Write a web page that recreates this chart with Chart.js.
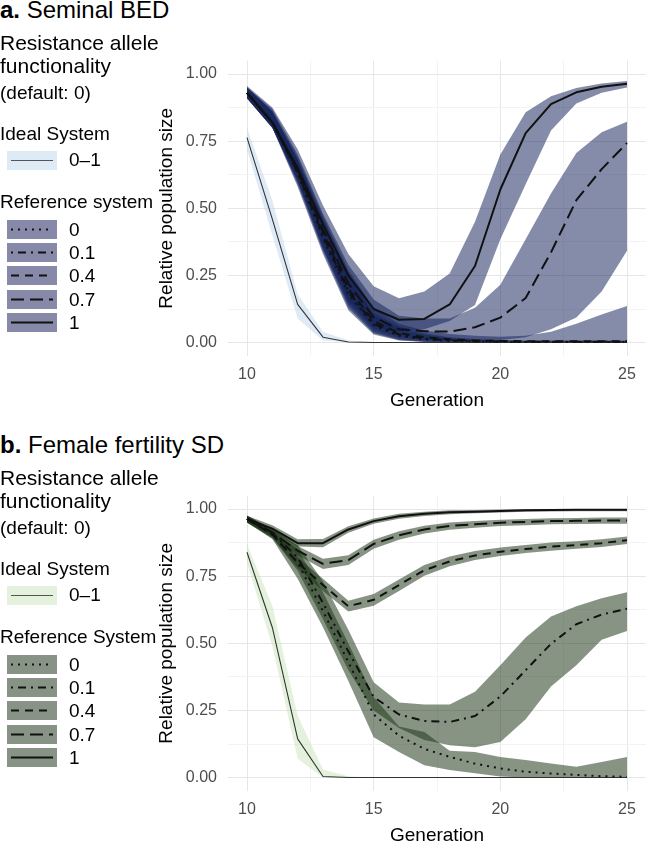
<!DOCTYPE html>
<html>
<head>
<meta charset="utf-8">
<script src="https://cdn.jsdelivr.net/npm/chart.js@4.4.1/dist/chart.umd.min.js"></script>
<style>
    html, body { margin: 0; padding: 0; background: #fff; }
    body { width: 646px; height: 841px; position: relative; overflow: hidden; font-family: "Liberation Sans", Arial, sans-serif; color: #000; }
    .panel { position: absolute; left: 0; width: 646px; height: 435px; }
    .txt { position: absolute; left: 0; white-space: nowrap; }
    .cv { position: absolute; left: 150px; top: 40px; }
    svg.key { position: absolute; left: 7px; }
</style>
</head>
<body>
<div class="panel" id="panelA" style="top:0px"><div class="cv"><canvas id="chartA" width="496" height="380"></canvas></div></div>
<div class="panel" id="panelB" style="top:435px"><div class="cv"><canvas id="chartB" width="496" height="380"></canvas></div></div>
<script>
const generations = [10, 11, 12, 13, 14, 15, 16, 17, 18, 19, 20, 21, 22, 23, 24, 25];
const xTicks = [10, 12.5, 15, 17.5, 20, 22.5, 25];
const yTicks = [0, 0.125, 0.25, 0.375, 0.5, 0.625, 0.75, 0.875, 1];
const refLabels = ["0", "0.1", "0.4", "0.7", "1"];

// panel a: Seminal BED
const aIdeal   = [0.763, 0.46, 0.142, 0.02, 0.002, 0, 0, 0, 0, 0, 0, 0, 0, 0, 0, 0];
const aIdealLo = [0.72, 0.40, 0.09, 0.008, 0, 0, 0, 0, 0, 0, 0, 0, 0, 0, 0, 0];
const aIdealHi = [0.80, 0.53, 0.18, 0.04, 0.008, 0.001, 0, 0, 0, 0, 0, 0, 0, 0, 0, 0];

const aRef0    = [0.93, 0.82, 0.63, 0.39, 0.18, 0.065, 0.025, 0.012, 0.006, 0.004, 0.003, 0.002, 0.002, 0.002, 0.002, 0.002];
const aRef0Lo  = [0.91, 0.80, 0.58, 0.33, 0.12, 0.03, 0.008, 0.002, 0, 0, 0, 0, 0, 0, 0, 0];
const aRef0Hi  = [0.95, 0.86, 0.68, 0.45, 0.25, 0.10, 0.05, 0.03, 0.015, 0.01, 0.008, 0.006, 0.006, 0.006, 0.006, 0.006];
const aRef01   = [0.93, 0.82, 0.635, 0.40, 0.19, 0.07, 0.03, 0.015, 0.008, 0.005, 0.004, 0.003, 0.003, 0.003, 0.003, 0.003];
const aRef01Lo = [0.91, 0.80, 0.59, 0.34, 0.13, 0.035, 0.01, 0.003, 0, 0, 0, 0, 0, 0, 0, 0];
const aRef01Hi = [0.95, 0.86, 0.68, 0.46, 0.26, 0.11, 0.06, 0.035, 0.02, 0.013, 0.01, 0.008, 0.008, 0.008, 0.008, 0.008];
const aRef04   = [0.93, 0.82, 0.64, 0.41, 0.20, 0.08, 0.035, 0.02, 0.012, 0.008, 0.006, 0.005, 0.005, 0.005, 0.005, 0.005];
const aRef04Lo = [0.91, 0.80, 0.60, 0.35, 0.14, 0.04, 0.012, 0.004, 0, 0, 0, 0, 0, 0, 0, 0];
const aRef04Hi = [0.95, 0.86, 0.69, 0.47, 0.27, 0.13, 0.07, 0.045, 0.032, 0.025, 0.022, 0.025, 0.04, 0.07, 0.105, 0.136];
const aRef07   = [0.93, 0.82, 0.645, 0.42, 0.22, 0.095, 0.05, 0.042, 0.041, 0.057, 0.093, 0.166, 0.336, 0.53, 0.646, 0.743];
const aRef07Lo = [0.91, 0.80, 0.60, 0.35, 0.15, 0.05, 0.02, 0.01, 0.006, 0.006, 0.01, 0.02, 0.05, 0.093, 0.19, 0.342];
const aRef07Hi = [0.95, 0.87, 0.70, 0.48, 0.29, 0.16, 0.10, 0.09, 0.09, 0.13, 0.215, 0.385, 0.555, 0.706, 0.783, 0.822];
const aRef1    = [0.93, 0.82, 0.65, 0.44, 0.25, 0.125, 0.085, 0.088, 0.142, 0.285, 0.57, 0.78, 0.888, 0.932, 0.953, 0.964];
const aRef1Lo  = [0.91, 0.80, 0.61, 0.37, 0.16, 0.06, 0.04, 0.05, 0.08, 0.14, 0.385, 0.59, 0.79, 0.89, 0.93, 0.95];
const aRef1Hi  = [0.955, 0.875, 0.72, 0.51, 0.33, 0.21, 0.165, 0.19, 0.257, 0.45, 0.70, 0.858, 0.917, 0.948, 0.965, 0.974];

// panel b: Female fertility SD
const bIdeal   = [0.839, 0.559, 0.144, 0.004, 0, 0, 0, 0, 0, 0, 0, 0, 0, 0, 0, 0];
const bIdealLo = [0.80, 0.49, 0.07, 0, 0, 0, 0, 0, 0, 0, 0, 0, 0, 0, 0, 0];
const bIdealHi = [0.87, 0.64, 0.23, 0.03, 0.005, 0, 0, 0, 0, 0, 0, 0, 0, 0, 0, 0];

const bRef0    = [0.963, 0.905, 0.80, 0.62, 0.43, 0.235, 0.156, 0.107, 0.077, 0.052, 0.034, 0.022, 0.015, 0.01, 0.005, 0.003];
const bRef0Lo  = [0.95, 0.888, 0.74, 0.56, 0.36, 0.15, 0.095, 0.046, 0.028, 0.016, 0.004, 0, 0, 0, 0, 0];
const bRef0Hi  = [0.975, 0.92, 0.85, 0.69, 0.50, 0.30, 0.19, 0.17, 0.10, 0.095, 0.077, 0.065, 0.052, 0.04, 0.058, 0.077];
const bRef01   = [0.963, 0.91, 0.82, 0.65, 0.47, 0.30, 0.235, 0.211, 0.207, 0.229, 0.302, 0.40, 0.498, 0.571, 0.607, 0.629];
const bRef01Lo = [0.95, 0.895, 0.77, 0.59, 0.40, 0.25, 0.185, 0.14, 0.12, 0.113, 0.132, 0.217, 0.339, 0.418, 0.513, 0.546];
const bRef01Hi = [0.975, 0.925, 0.865, 0.73, 0.55, 0.355, 0.28, 0.272, 0.272, 0.32, 0.418, 0.522, 0.60, 0.638, 0.668, 0.69];
const bRef04   = [0.963, 0.906, 0.80, 0.717, 0.638, 0.662, 0.717, 0.772, 0.805, 0.827, 0.841, 0.851, 0.86, 0.866, 0.873, 0.884];
const bRef04Lo = [0.95, 0.89, 0.78, 0.695, 0.618, 0.64, 0.695, 0.752, 0.787, 0.81, 0.825, 0.836, 0.845, 0.852, 0.859, 0.87];
const bRef04Hi = [0.975, 0.92, 0.82, 0.74, 0.658, 0.684, 0.738, 0.792, 0.823, 0.844, 0.857, 0.866, 0.875, 0.88, 0.887, 0.898];
const bRef07   = [0.963, 0.912, 0.845, 0.796, 0.81, 0.87, 0.902, 0.924, 0.937, 0.943, 0.949, 0.952, 0.955, 0.956, 0.957, 0.957];
const bRef07Lo = [0.95, 0.898, 0.828, 0.777, 0.792, 0.852, 0.886, 0.909, 0.923, 0.93, 0.937, 0.94, 0.943, 0.944, 0.945, 0.945];
const bRef07Hi = [0.975, 0.926, 0.862, 0.815, 0.828, 0.886, 0.917, 0.938, 0.95, 0.955, 0.96, 0.963, 0.966, 0.967, 0.968, 0.968];
const bRef1    = [0.963, 0.927, 0.873, 0.873, 0.924, 0.955, 0.973, 0.982, 0.988, 0.99, 0.993, 0.995, 0.996, 0.997, 0.997, 0.997];
const bRef1Lo  = [0.952, 0.915, 0.86, 0.858, 0.912, 0.945, 0.964, 0.974, 0.981, 0.984, 0.987, 0.99, 0.991, 0.992, 0.992, 0.992];
const bRef1Hi  = [0.975, 0.94, 0.887, 0.888, 0.936, 0.965, 0.982, 0.99, 0.995, 0.996, 0.998, 0.999, 1, 1, 1, 1];

((d, c) => {
    const FONT = '"Liberation Sans", Arial, sans-serif';
    const dashes = [[2, 5], [2, 5, 8, 5], [8, 6], [13, 6], []];

    function pts(arr) {
        return generations.map((g, i) => ({ x: g, y: arr[i] }));
    }

    function band(hi, lo, color) {
        return [{
            data: pts(hi), fill: '+1', backgroundColor: color, borderColor: 'transparent',
            borderWidth: 0, pointRadius: 0, order: 2
        }, {
            data: pts(lo), fill: false, borderColor: 'transparent', borderWidth: 0, pointRadius: 0, order: 2
        }];
    }

    function line(vals, color, width, dash) {
        return {
            data: pts(vals), fill: false, borderColor: color, borderWidth: width, borderDash: dash,
            pointRadius: 0, order: 0, borderCapStyle: 'butt', borderJoinStyle: 'round'
        };
    }

    function addText(panel, txt, top, size, left) {
        const el = d.createElement("div");
        el.className = "txt";
        el.style.top = top + "px";
        el.style.left = (left || 0) + "px";
        el.style.fontSize = size + "px";
        el.style.lineHeight = size + "px";
        el.innerHTML = txt;
        panel.appendChild(el);
    }

    function addKey(panel, top, fill, stroke, width, dash) {
        const svg = `<svg class="key" style="top:${top}px" width="50" height="19">
            <rect x="0" y="0" width="50" height="19" fill="${fill}"/>
            <line x1="4" y1="9.5" x2="46" y2="9.5" stroke="${stroke}" stroke-width="${width}" stroke-dasharray="${dash.join(' ')}"/>
        </svg>`;
        panel.insertAdjacentHTML("beforeend", svg);
    }

    function drawLegend(panel, cfg) {
        addText(panel, cfg.title, -2, 24);
        addText(panel, "Resistance allele", 32, 21);
        addText(panel, "functionality", 55, 21);
        addText(panel, "(default: 0)", 83, 19);
        addText(panel, "Ideal System", 124, 19);
        addKey(panel, 151, cfg.idealKey, "#555", 1.2, []);
        addText(panel, "0\u20131", 150, 19, 69);
        addText(panel, cfg.refTitle, 192, 19);
        const keyTops = [220, 243, 266, 290, 313];
        refLabels.forEach((lab, i) => {
            addKey(panel, keyTops[i], cfg.refKey, "#111", 2, dashes[i]);
            addText(panel, lab, keyTops[i], 19, 69);
        });
    }

    function drawChart(canvas, cfg) {
        const datasets = [];
        datasets.push(...band(cfg.idealHi, cfg.idealLo, cfg.idealFill));
        cfg.refs.forEach(r => datasets.push(...band(r[2], r[1], cfg.refFill)));
        cfg.refs.forEach((r, i) => datasets.push(line(r[0], "#111", 2, dashes[i])));
        datasets.push(line(cfg.ideal, "#333", 1.1, []));

        const gridColor = ctx => (ctx.tick && ctx.tick.value % 0.25 === 0 && ctx.scale.axis === 'y') ||
            (ctx.tick && ctx.tick.value % 5 === 0 && ctx.scale.axis === 'x') ? '#e6e6e6' : '#f3f3f3';

        new Chart(canvas, {
            type: 'line',
            data: { datasets },
            options: {
                responsive: false,
                animation: false,
                layout: { padding: { top: 14, right: 0, left: 0, bottom: 0 } },
                plugins: { legend: { display: false }, tooltip: { enabled: false } },
                elements: { line: { tension: 0 }, point: { radius: 0 } },
                scales: {
                    x: {
                        type: 'linear', min: 9.25, max: 25.75,
                        afterBuildTicks: s => { s.ticks = xTicks.map(v => ({ value: v })); },
                        afterFit: s => { s.height = 64; },
                        grid: { color: gridColor, lineWidth: 1, drawTicks: false },
                        border: { display: false },
                        ticks: {
                            autoSkip: false, maxRotation: 0, padding: 9, color: '#4d4d4d',
                            font: { family: FONT, size: 16 },
                            callback: v => (v % 5 === 0 ? String(v) : '')
                        },
                        title: { display: true, text: 'Generation', color: '#000', font: { family: FONT, size: 19 }, padding: { top: 0, bottom: 8 } }
                    },
                    y: {
                        type: 'linear', min: -0.05, max: 1.05,
                        afterBuildTicks: s => { s.ticks = yTicks.map(v => ({ value: v })); },
                        afterFit: s => { s.width = 78; },
                        grid: { color: gridColor, lineWidth: 1, drawTicks: false },
                        border: { display: false },
                        ticks: {
                            autoSkip: false, padding: 11, color: '#4d4d4d',
                            font: { family: FONT, size: 16 },
                            callback: v => (v % 0.25 === 0 ? v.toFixed(2) : '')
                        },
                        title: { display: true, text: 'Relative population size', color: '#000', font: { family: FONT, size: 19 }, padding: { top: 5, bottom: 0 } }
                    }
                }
            }
        });
    }

    const panels = [{
        panel: "panelA", canvas: "chartA",
        title: "<b>a.</b> Seminal BED", refTitle: "Reference system",
        idealKey: "#deebf7", refKey: "#868aa8",
        idealFill: "rgba(190,215,238,0.5)", refFill: "rgba(20,35,90,0.52)",
        ideal: aIdeal, idealLo: aIdealLo, idealHi: aIdealHi,
        refs: [[aRef0, aRef0Lo, aRef0Hi], [aRef01, aRef01Lo, aRef01Hi], [aRef04, aRef04Lo, aRef04Hi],
               [aRef07, aRef07Lo, aRef07Hi], [aRef1, aRef1Lo, aRef1Hi]]
    }, {
        panel: "panelB", canvas: "chartB",
        title: "<b>b.</b> Female fertility SD", refTitle: "Reference System",
        idealKey: "#e4f1dc", refKey: "#879485",
        idealFill: "rgba(195,225,180,0.45)", refFill: "rgba(25,50,20,0.52)",
        ideal: bIdeal, idealLo: bIdealLo, idealHi: bIdealHi,
        refs: [[bRef0, bRef0Lo, bRef0Hi], [bRef01, bRef01Lo, bRef01Hi], [bRef04, bRef04Lo, bRef04Hi],
               [bRef07, bRef07Lo, bRef07Hi], [bRef1, bRef1Lo, bRef1Hi]]
    }];

    panels.forEach(p => {
        drawLegend(d.getElementById(p.panel), p);
        drawChart(d.getElementById(p.canvas), p);
    });
})(document, console.log);
</script>
</body>
</html>
